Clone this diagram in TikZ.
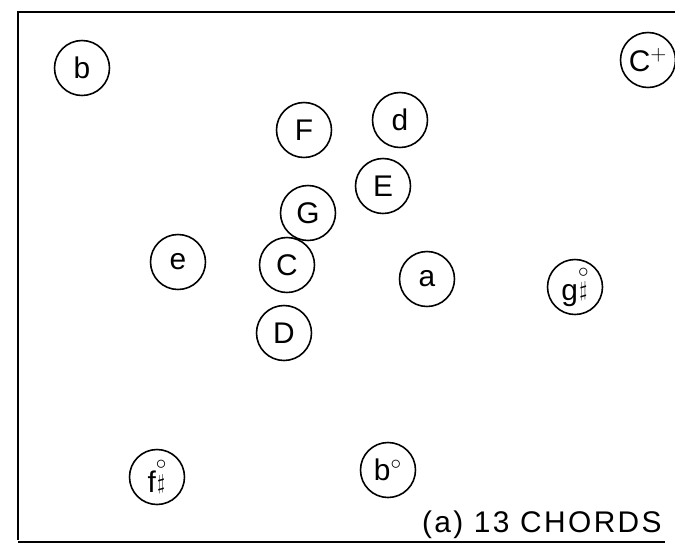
\documentclass[tikz,border=0pt]{standalone}
\usepackage{fontspec}
\setmainfont{Liberation Sans}
\usepackage{tikz}
\usetikzlibrary{positioning}
\tikzset{
  chord/.style={circle,draw,line width=0.9pt,minimum size=1.1cm,inner sep=0pt,font=\fontsize{17}{20}\selectfont},
  frame/.style={line width=0.9pt},
  caption/.style={font=\fontsize{17}{20}\selectfont\addfontfeatures{LetterSpace=8},inner sep=0pt},
}
\newcommand{\dimsharp}{\raisebox{0.2ex}{\shortstack{\fontsize{13}{9}\selectfont$\circ$\\\fontsize{13}{9}\selectfont$\sharp$}}}
\begin{document}
\begin{tikzpicture}[x=0.02cm,y=-0.02cm]
  \useasboundingbox (0,0) rectangle (675,545);
  % frame
  \draw[frame] (18,540) -- (18,12) -- (675,12);
  \draw[frame] (18,542) -- (665,542);
  % chords
  \node[chord] (b) at (82,68) {b};
  \node[chord] (Caug) at (648,60) {C$^{+}$};
  \node[chord] (F) at (304,130) {F};
  \node[chord] (d) at (400,120) {d};
  \node[chord] (E) at (383,186) {E};
  \node[chord] (G) at (308,213) {G};
  \node[chord] (e) at (178,262) {e};
  \node[chord] (C) at (287,265) {C};
  \node[chord] (a) at (427,279) {a};
  \node[chord] (gdim) at (575,287) {g\dimsharp};
  \node[chord] (D) at (284,333) {D};
  \node[chord] (fdim) at (157,477) {f\dimsharp};
  \node[chord] (bdim) at (388,470) {b$^{\circ}$};
  \node[caption,anchor=base east] (cap) at (662,532) {(a) 13 CHORDS};
\end{tikzpicture}
\end{document}
